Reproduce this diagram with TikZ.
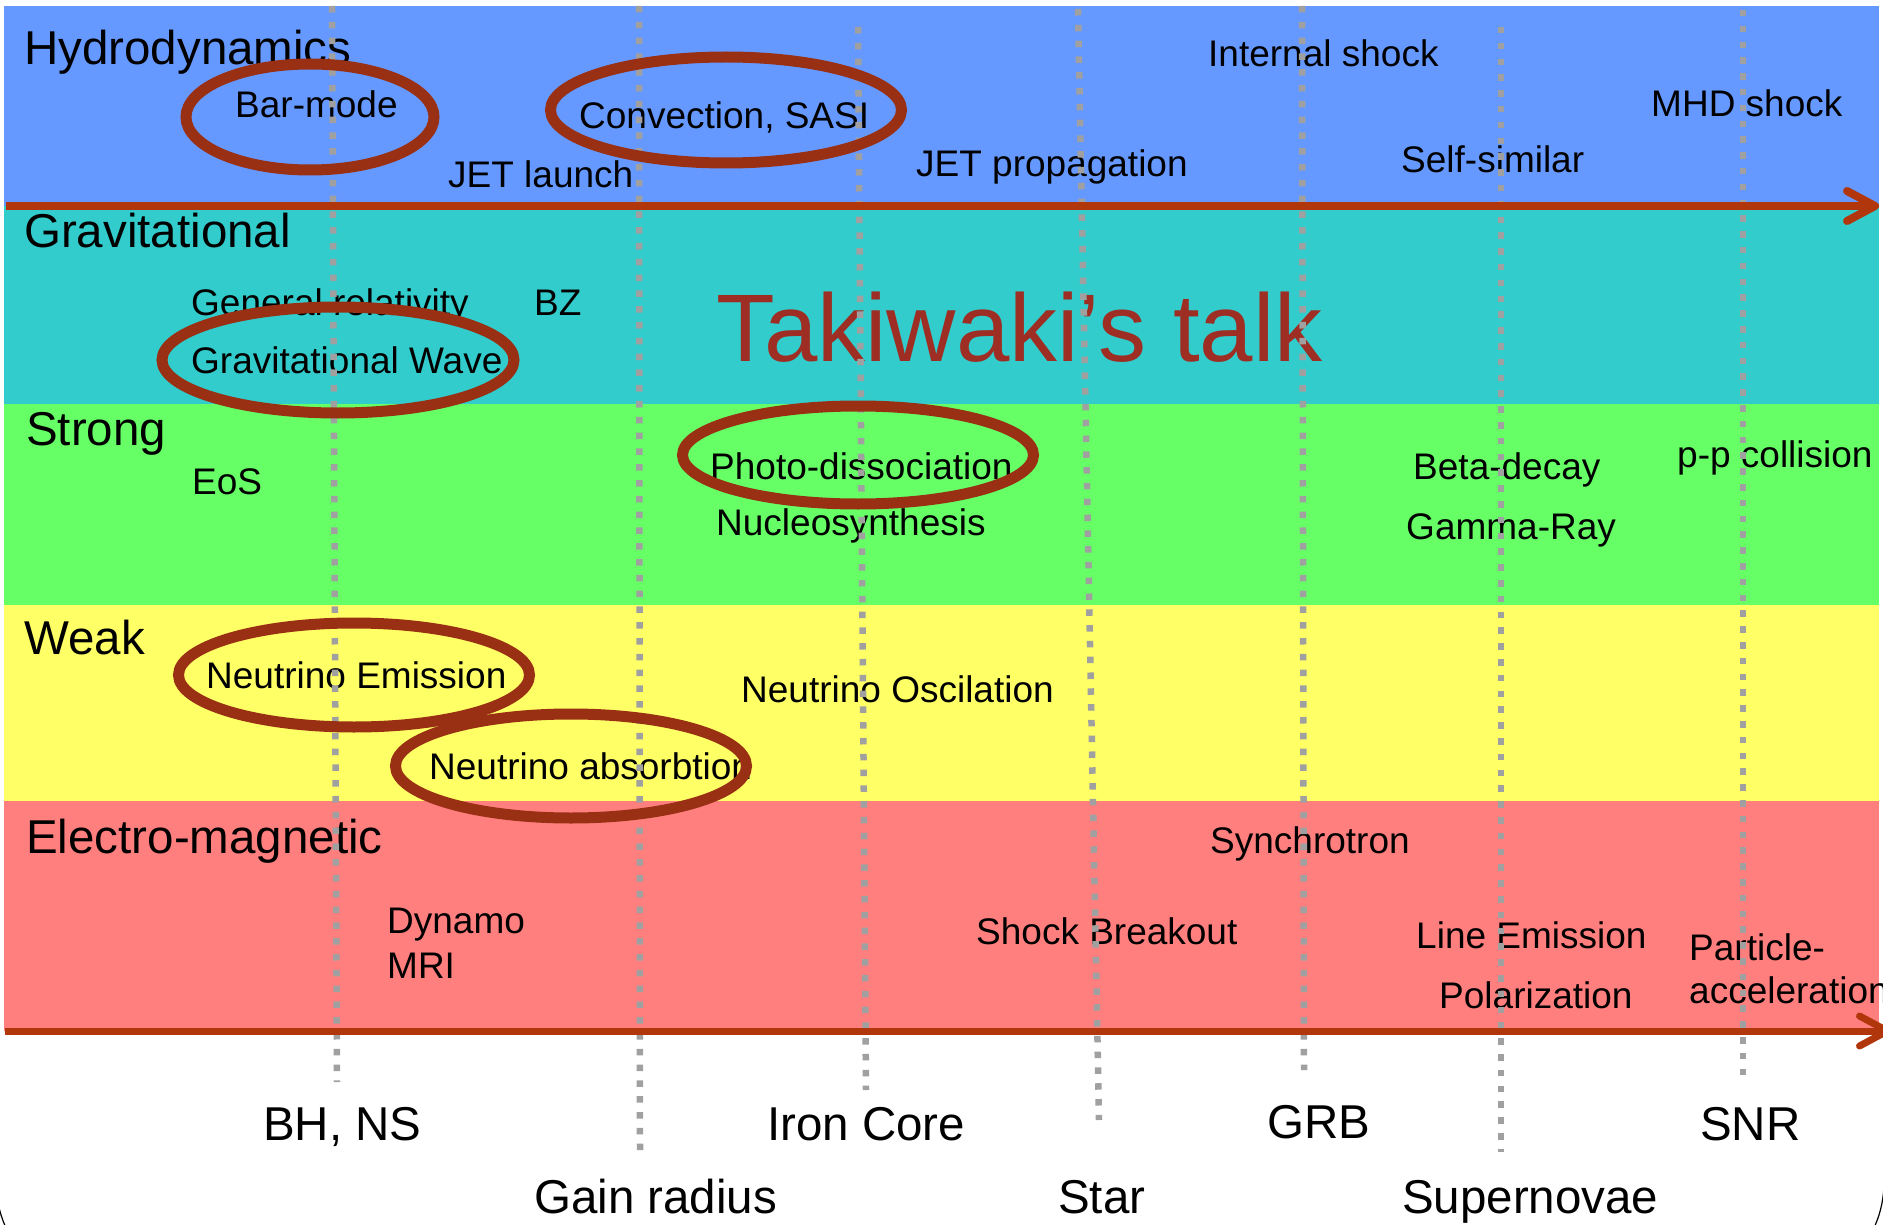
\documentclass[tikz,border=0pt]{standalone}
\usepackage{tikz}
\usepackage{xcolor}
\usepackage{fontspec}
\setmainfont{Liberation Sans}
\usetikzlibrary{
  arrows.meta, positioning, calc
}
\definecolor{hydroblue}{RGB}{102,153,255}
\definecolor{gravteal}{RGB}{51,204,204}
\definecolor{stronggreen}{RGB}{102,255,102}
\definecolor{weakyellow}{RGB}{255,255,102}
\definecolor{emred}{RGB}{255,127,127}
\definecolor{axisred}{RGB}{178,54,12}
\definecolor{ringred}{RGB}{153,48,20}
\definecolor{talkred}{RGB}{158,46,36}
\definecolor{guidegray}{RGB}{160,160,160}

\begin{document}
\begin{tikzpicture}
    [x=1pt, y=-1pt,
     band/.style={anchor=base west,inner sep=0pt,font=\fontsize{47.5}{57}\selectfont},
     item/.style={anchor=base west,inner sep=0pt,font=\fontsize{37}{44}\selectfont},
     guide/.style={draw=guidegray,line width=6.5pt,dash pattern=on 6.5pt off 9.3pt},
     ring/.style={draw=ringred,line width=11pt},
     axis/.style={draw=axisred,line width=8pt,
       -{Straight Barb[length=28pt,width=30pt,round]}}]
    \useasboundingbox (0,0) rectangle (1883,1225);
    \fill[white] (0,0) rectangle (1883,1225);

    % bands
    \fill[hydroblue] (4,6) rectangle (1879,206);
    \fill[gravteal] (4,206) rectangle (1879,404);
    \fill[stronggreen] (4,404) rectangle (1879,605);
    \fill[weakyellow] (4,605) rectangle (1879,801);
    \fill[emred] (4,801) rectangle (1879,1031);

    % frame corners
    \draw[line width=1.2pt] (-4,1182) arc[start angle=180,end angle=90,radius=110];
    \draw[line width=1.2pt] (1884,1182) arc[start angle=0,end angle=90,radius=110];

    \node (hydro) at (24,65) [band] {Hydrodynamics};
    \node (barmode) at (235,118) [item] {Bar-mode};
    \node (jetlaunch) at (448,188) [item] {JET launch};
    \node (convection) at (579,129) [item] {Convection, SASI};
    \node (jetprop) at (916,177) [item] {JET propagation};
    \node (intshock) at (1208,67) [item] {Internal shock};
    \node (mhdshock) at (1651,117) [item] {MHD shock};
    \node (selfsim) at (1401,173) [item] {Self-similar};

    \node (grav) at (24,248) [band] {Gravitational};
    \node (genrel) at (191,316) [item] {General relativity};
    \node (bz) at (534,316) [item] {BZ};
    \node (gwave) at (191,373) [item] {Gravitational Wave};
    \node (talk) at (716,361) [anchor=base west,inner sep=0pt,text=talkred,
      font=\fontsize{96}{112}\selectfont] {Takiwaki’s talk};

    \node (strong) at (26,445) [band] {Strong};
    \node (eos) at (192,494) [item] {EoS};
    \node (photodis) at (710,479) [item] {Photo-dissociation};
    \node (nucleo) at (716,535) [item] {Nucleosynthesis};
    \node (betadecay) at (1413,479) [item] {Beta-decay};
    \node (gammaray) at (1406,539) [item] {Gamma-Ray};
    \node (ppcoll) at (1677,467) [item] {p-p collision};

    \node (weak) at (24,654) [band] {Weak};
    \node (nuemit) at (206,688) [item] {Neutrino Emission};
    \node (nuosc) at (741,702) [item] {Neutrino Oscilation};
    \node (nuabs) at (429,779) [item] {Neutrino absorbtion};

    \node (em) at (26,853) [band] {Electro-magnetic};
    \node (dynamo) at (387,933) [item] {Dynamo};
    \node (mri) at (387,978) [item] {MRI};
    \node (synchro) at (1210,853) [item] {Synchrotron};
    \node (shockbo) at (976,944) [item] {Shock Breakout};
    \node (lineemit) at (1416,948) [item] {Line Emission};
    \node (polar) at (1439,1008) [item] {Polarization};
    \node (partacc1) at (1689,960) [item] {Particle-};
    \node (partacc2) at (1689,1003) [item] {acceleration};

    \node (bhns) at (263,1140) [band] {BH, NS};
    \node (gain) at (534,1213) [band] {Gain radius};
    \node (ironcore) at (767,1140) [band] {Iron Core};
    \node (star) at (1058,1213) [band] {Star};
    \node (grb) at (1267,1138) [band] {GRB};
    \node (sn) at (1402,1213) [band] {Supernovae};
    \node (snr) at (1700,1140) [band] {SNR};

    % dotted guides
    \coordinate (g1a) at (332,6);    \coordinate (g1b) at (337,1082);
    \coordinate (g2a) at (639,6);    \coordinate (g2b) at (640,1152);
    \coordinate (g3a) at (858,27);   \coordinate (g3b) at (866,1090);
    \coordinate (g4a) at (1078,9);   \coordinate (g4b) at (1099,1120);
    \coordinate (g5a) at (1302,6);   \coordinate (g5b) at (1304,1070);
    \coordinate (g6a) at (1501,27);  \coordinate (g6b) at (1501,1152);
    \coordinate (g7a) at (1743,10);  \coordinate (g7b) at (1743,1084);
    \foreach \g in {1,...,7}
      \draw[guide] (g\g a) -- (g\g b);

    % rings
    \draw[ring] (310,117) ellipse [x radius=124, y radius=53];
    \draw[ring] (726,110) ellipse [x radius=175.5, y radius=53];
    \draw[ring] (338,360) ellipse [x radius=176, y radius=53];
    \draw[ring] (858,455) ellipse [x radius=175.5, y radius=49];
    \draw[ring] (354,675) ellipse [x radius=175.5, y radius=52];
    \draw[ring] (571,766) ellipse [x radius=175.5, y radius=52];

    % axes
    \coordinate (topstart) at (6,206);
    \coordinate (topend) at (1879,206);
    \coordinate (botstart) at (5,1031);
    \coordinate (botend) at (1891,1031);
    \draw[axis] (topstart) -- (topend);
    \draw[axis,line width=7pt] (botstart) -- (botend);
\end{tikzpicture}
\end{document}
